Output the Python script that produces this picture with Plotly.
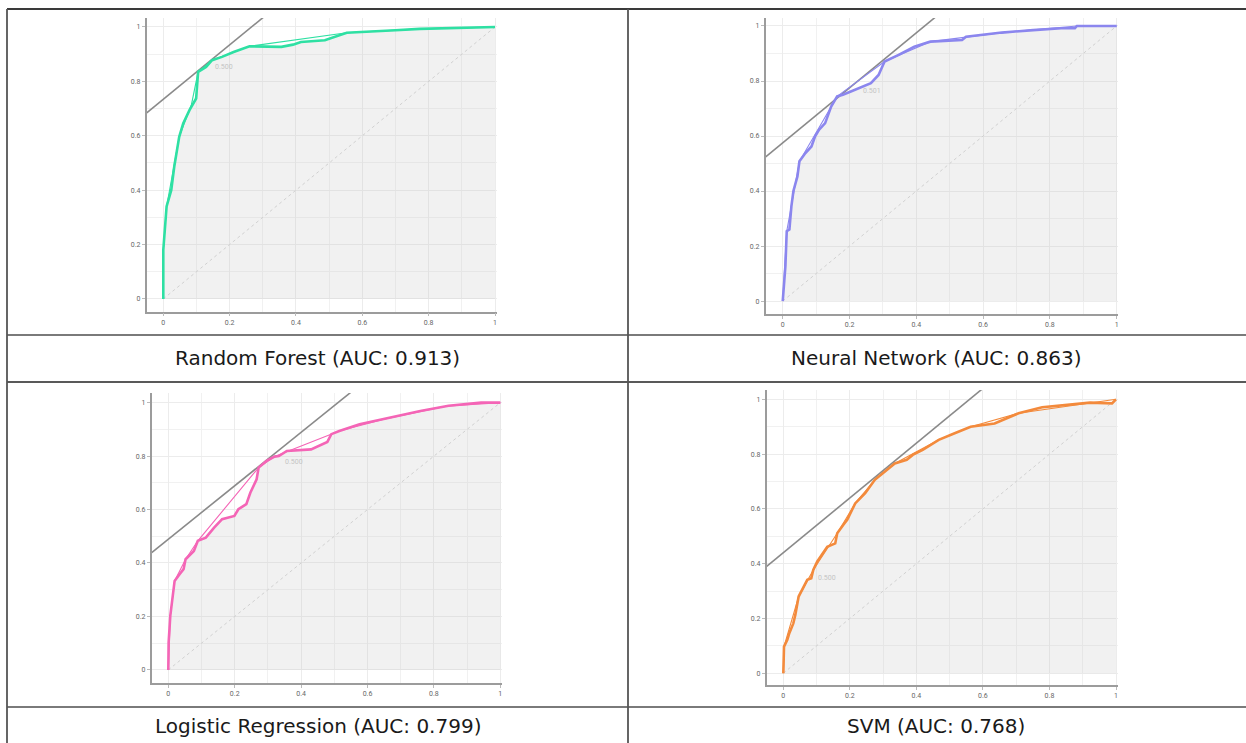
import plotly.graph_objects as go

# ---------------- data ----------------
titles = ["Random Forest (AUC: 0.913)", "Neural Network (AUC: 0.863)",
          "Logistic Regression (AUC: 0.799)", "SVM (AUC: 0.768)"]
colors = ["#2ee0a3", "#8b86ee", "#f465b6", "#f38a3c"]

rf_fpr = [0, 0, 0.01, 0.024, 0.033, 0.048, 0.06, 0.079, 0.099, 0.105, 0.129, 0.147, 0.177, 0.212,
          0.26, 0.32, 0.356, 0.391, 0.415, 0.487, 0.511, 0.553, 0.70, 0.773, 1]
rf_tpr = [0, 0.18, 0.34, 0.40, 0.486, 0.596, 0.645, 0.694, 0.737, 0.835, 0.853, 0.878, 0.89, 0.908,
          0.929, 0.929, 0.927, 0.935, 0.945, 0.951, 0.961, 0.979, 0.988, 0.993, 1]
rf_hull_fpr = [0, 0, 0.01, 0.048, 0.085, 0.105, 0.147, 0.212, 0.26, 0.553, 0.773, 1]
rf_hull_tpr = [0, 0.18, 0.34, 0.596, 0.715, 0.835, 0.878, 0.908, 0.929, 0.979, 0.993, 1]

nn_fpr = [0, 0.008, 0.012, 0.02, 0.026, 0.032, 0.044, 0.05, 0.068, 0.086, 0.097, 0.109, 0.127, 0.145,
          0.163, 0.18, 0.204, 0.228, 0.264, 0.287, 0.299, 0.305, 0.347, 0.394, 0.442, 0.537, 0.549,
          0.656, 0.75, 0.834, 0.875, 0.881, 1]
nn_tpr = [0, 0.127, 0.254, 0.26, 0.345, 0.40, 0.453, 0.508, 0.538, 0.562, 0.599, 0.623, 0.647, 0.707,
          0.744, 0.75, 0.762, 0.774, 0.792, 0.822, 0.859, 0.871, 0.895, 0.925, 0.943, 0.949, 0.961,
          0.976, 0.985, 0.992, 0.992, 1, 1]
nn_hull_fpr = [0, 0.012, 0.05, 0.163, 0.305, 0.442, 0.656, 0.881, 1]
nn_hull_tpr = [0, 0.254, 0.508, 0.744, 0.871, 0.943, 0.976, 1, 1]

lr_fpr = [0, 0.001, 0.006, 0.013, 0.019, 0.034, 0.046, 0.052, 0.077, 0.089, 0.113, 0.138, 0.162,
          0.199, 0.211, 0.235, 0.247, 0.266, 0.272, 0.296, 0.32, 0.333, 0.357, 0.43, 0.454, 0.479,
          0.491, 0.515, 0.576, 0.649, 0.759, 0.844, 0.942, 1]
lr_tpr = [0, 0.102, 0.202, 0.277, 0.333, 0.358, 0.377, 0.414, 0.445, 0.483, 0.495, 0.532, 0.564,
          0.576, 0.601, 0.62, 0.663, 0.713, 0.757, 0.782, 0.798, 0.80, 0.819, 0.825, 0.838, 0.853,
          0.882, 0.894, 0.919, 0.938, 0.969, 0.988, 1.0, 1]
lr_hull_fpr = [0, 0.006, 0.019, 0.052, 0.089, 0.272, 0.32, 0.515, 0.649, 0.844, 1]
lr_hull_tpr = [0, 0.202, 0.333, 0.414, 0.483, 0.757, 0.798, 0.894, 0.938, 0.988, 1]

svm_fpr = [0, 0.002, 0.012, 0.018, 0.03, 0.036, 0.046, 0.06, 0.072, 0.084, 0.09, 0.102, 0.12, 0.132,
           0.156, 0.162, 0.18, 0.192, 0.216, 0.246, 0.275, 0.299, 0.335, 0.371, 0.389, 0.419, 0.467,
           0.515, 0.563, 0.635, 0.659, 0.707, 0.778, 0.85, 0.922, 0.988, 1]
svm_tpr = [0, 0.097, 0.122, 0.146, 0.182, 0.213, 0.28, 0.316, 0.341, 0.347, 0.377, 0.408, 0.438, 0.462,
           0.474, 0.511, 0.541, 0.56, 0.62, 0.657, 0.706, 0.73, 0.766, 0.779, 0.797, 0.815, 0.852,
           0.876, 0.90, 0.912, 0.925, 0.949, 0.971, 0.979, 0.988, 0.985, 1]
svm_hull_fpr = [0, 0.002, 0.046, 0.09, 0.162, 0.216, 0.275, 0.335, 0.467, 0.563, 0.707, 0.922, 1]
svm_hull_tpr = [0, 0.097, 0.28, 0.377, 0.511, 0.62, 0.706, 0.766, 0.852, 0.90, 0.949, 0.988, 1]

curves_fpr = [rf_fpr, nn_fpr, lr_fpr, svm_fpr]
curves_tpr = [rf_tpr, nn_tpr, lr_tpr, svm_tpr]
hulls_fpr = [rf_hull_fpr, nn_hull_fpr, lr_hull_fpr, svm_hull_fpr]
hulls_tpr = [rf_hull_tpr, nn_hull_tpr, lr_hull_tpr, svm_hull_tpr]

# iso-performance line: tpr = fpr + intercept
perf_intercepts = [0.734, 0.575, 0.489, 0.44]
thr_labels = ["0.500", "0.501", "0.500", "0.500"]
thr_fpr = [0.15, 0.235, 0.345, 0.098]
thr_tpr = [0.853, 0.762, 0.778, 0.347]

tick_vals = [0, 0.2, 0.4, 0.6, 0.8, 1]
tick_text = ["0", "0.2", "0.4", "0.6", "0.8", "1"]

# ---------------- layout geometry (pixels) ----------------
W, H = 1246, 743
# (x_left, x_right, y_bottom, y_top) in px ; x-range ; y-range
panels = [
    ((146.7, 497.0, 311.7, 18.0), (-0.05, 1.006), (-0.047, 1.033)),
    ((765.7, 1118.0, 314.0, 18.0), (-0.051, 1.004), (-0.047, 1.029)),
    ((151.7, 502.0, 683.0, 393.0), (-0.05, 1.005), (-0.049, 1.036)),
    ((766.7, 1118.0, 685.0, 390.0), (-0.05, 1.006), (-0.043, 1.034)),
]

fig = go.Figure()
layout_axes = {}
for i in range(4):
    (xl, xr, yb, yt), xrng, yrng = panels[i]
    sfx = "" if i == 0 else str(i + 1)
    xa, ya = "x" + sfx, "y" + sfx
    axcommon = dict(showgrid=True, gridcolor="#ececec", gridwidth=1, zeroline=False,
                    showline=True, linecolor="#9c9c9c", linewidth=1.5,
                    ticks="outside", ticklen=3, tickcolor="#bbbbbb",
                    tickvals=tick_vals, ticktext=tick_text,
                    tickfont=dict(size=7, color="#666666", family="Roboto"),
                    minor=dict(dtick=0.1, showgrid=True, gridcolor="#f1f1f1", ticks=""),
                    fixedrange=True)
    layout_axes["xaxis" + sfx] = dict(axcommon, domain=[xl / W, xr / W], range=list(xrng),
                                      anchor=ya)
    layout_axes["yaxis" + sfx] = dict(axcommon, domain=[(H - yb) / H, (H - yt) / H],
                                      range=list(yrng), anchor=xa)

    c = colors[i]
    # area under curve
    fig.add_trace(go.Scatter(x=curves_fpr[i], y=curves_tpr[i], mode="lines", fill="tozeroy",
                             fillcolor="rgba(190,190,190,0.22)", line=dict(width=0),
                             xaxis=xa, yaxis=ya, hoverinfo="skip", showlegend=False))
    # chance diagonal
    fig.add_trace(go.Scatter(x=[0, 1], y=[0, 1], mode="lines",
                             line=dict(color="#d0d0d0", width=1, dash="dot"),
                             xaxis=xa, yaxis=ya, hoverinfo="skip", showlegend=False))
    # iso-performance line
    b = perf_intercepts[i]
    lx = [xrng[0], 1.2]
    fig.add_trace(go.Scatter(x=lx, y=[v + b for v in lx], mode="lines",
                             line=dict(color="#8a8a8a", width=1.6),
                             xaxis=xa, yaxis=ya, hoverinfo="skip", showlegend=False))
    # convex hull
    fig.add_trace(go.Scatter(x=hulls_fpr[i], y=hulls_tpr[i], mode="lines",
                             line=dict(color=c, width=1.1),
                             xaxis=xa, yaxis=ya, hoverinfo="skip", showlegend=False))
    # ROC curve
    fig.add_trace(go.Scatter(x=curves_fpr[i], y=curves_tpr[i], mode="lines",
                             line=dict(color=c, width=2.6),
                             xaxis=xa, yaxis=ya, name=titles[i], showlegend=False))
    # threshold label
    fig.add_annotation(x=thr_fpr[i], y=thr_tpr[i], xref=xa, yref=ya, text=thr_labels[i],
                       showarrow=False, xanchor="left", yanchor="middle",
                       font=dict(size=7, color="#c4c4c4", family="Roboto"))

# ---------------- table frame ----------------
shapes = []
def hline(y, x0, x1, color, w):
    shapes.append(dict(type="line", xref="paper", yref="paper", x0=x0 / W, x1=x1 / W,
                       y0=(H - y) / H, y1=(H - y) / H, line=dict(color=color, width=w)))
def vline(x, y0, y1, color, w):
    shapes.append(dict(type="line", xref="paper", yref="paper", x0=x / W, x1=x / W,
                       y0=(H - y0) / H, y1=(H - y1) / H, line=dict(color=color, width=w)))

hline(9, 7, 1246, "#3a3a3a", 1.8)
hline(335, 7, 1246, "#7a7a7a", 2)
hline(382, 7, 1246, "#222222", 1.5)
hline(707, 7, 1246, "#7a7a7a", 2)
vline(7, 9, 743, "#555555", 1.8)
vline(628, 9, 743, "#555555", 1.8)

caption_pos = [(317.5, 357.5), (936, 357.5), (317.5, 726), (936, 726)]
for i in range(4):
    cx, cy = caption_pos[i]
    fig.add_annotation(x=cx / W, y=(H - cy) / H, xref="paper", yref="paper", text=titles[i],
                       showarrow=False, xanchor="center", yanchor="middle",
                       font=dict(size=20, color="#1a1a1a", family="DejaVu Sans"))

fig.update_layout(width=W, height=H, margin=dict(l=0, r=0, t=0, b=0),
                  paper_bgcolor="white", plot_bgcolor="white", shapes=shapes,
                  showlegend=False, **layout_axes)

fig.write_html("out.html", config={"displayModeBar": False},
               post_script="document.body.style.margin='0';document.body.style.padding='0';"
                           "document.body.style.overflow='hidden';")
